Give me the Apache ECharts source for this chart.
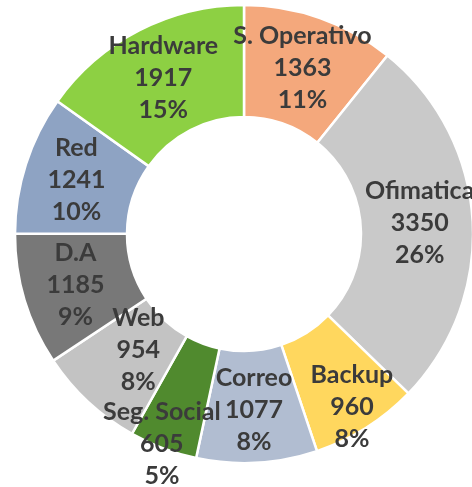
<!DOCTYPE html>
<html>
<head>
<meta charset="utf-8">
<script src="https://cdn.jsdelivr.net/npm/echarts@6/dist/echarts.min.js"></script>
<style>html,body{margin:0;padding:0;background:#fff}#c{width:472px;height:487px}</style>
</head>
<body>
<div id="c"></div>
<script>
const categories = ['S. Operativo', 'Ofimatica', 'Backup', 'Correo', 'Seg. Social', 'Web', 'D.A', 'Red', 'Hardware'];
const values = [1363, 3350, 960, 1077, 605, 954, 1185, 1241, 1917];
const colors = ['#F4A87C', '#C9C9C9', '#FFD75E', '#B1BDD1', '#508A2E', '#C3C3C3', '#787878', '#8EA3C3', '#8DD043'];
const labelShift = { 'Backup': [14, 24], 'Seg. Social': [-20, 45], 'Web': [14, -13] };

const chart = echarts.init(document.getElementById('c'), null, { renderer: 'canvas' });
chart.setOption({
  animation: false,
  series: [{
    type: 'pie',
    center: [244, 234],
    radius: [117, 229],
    startAngle: 90,
    clockwise: true,
    percentPrecision: 0,
    avoidLabelOverlap: false,
    emphasis: { disabled: true },
    itemStyle: { borderColor: '#ffffff', borderWidth: 2.5 },
    label: {
      show: true,
      position: 'inside',
      formatter: '{b}\n{c}\n{d}%',
      color: '#3b3b3b',
      fontFamily: 'Lato',
      fontWeight: 'bold',
      fontSize: 25,
      lineHeight: 32,
      align: 'center'
    },
    labelLine: { show: false },
    labelLayout: function (p) {
      const s = labelShift[categories[p.dataIndex]];
      return s ? { dx: s[0], dy: s[1] } : {};
    },
    data: categories.map((n, i) => ({ name: n, value: values[i], itemStyle: { color: colors[i] } }))
  }]
});
</script>
</body>
</html>
